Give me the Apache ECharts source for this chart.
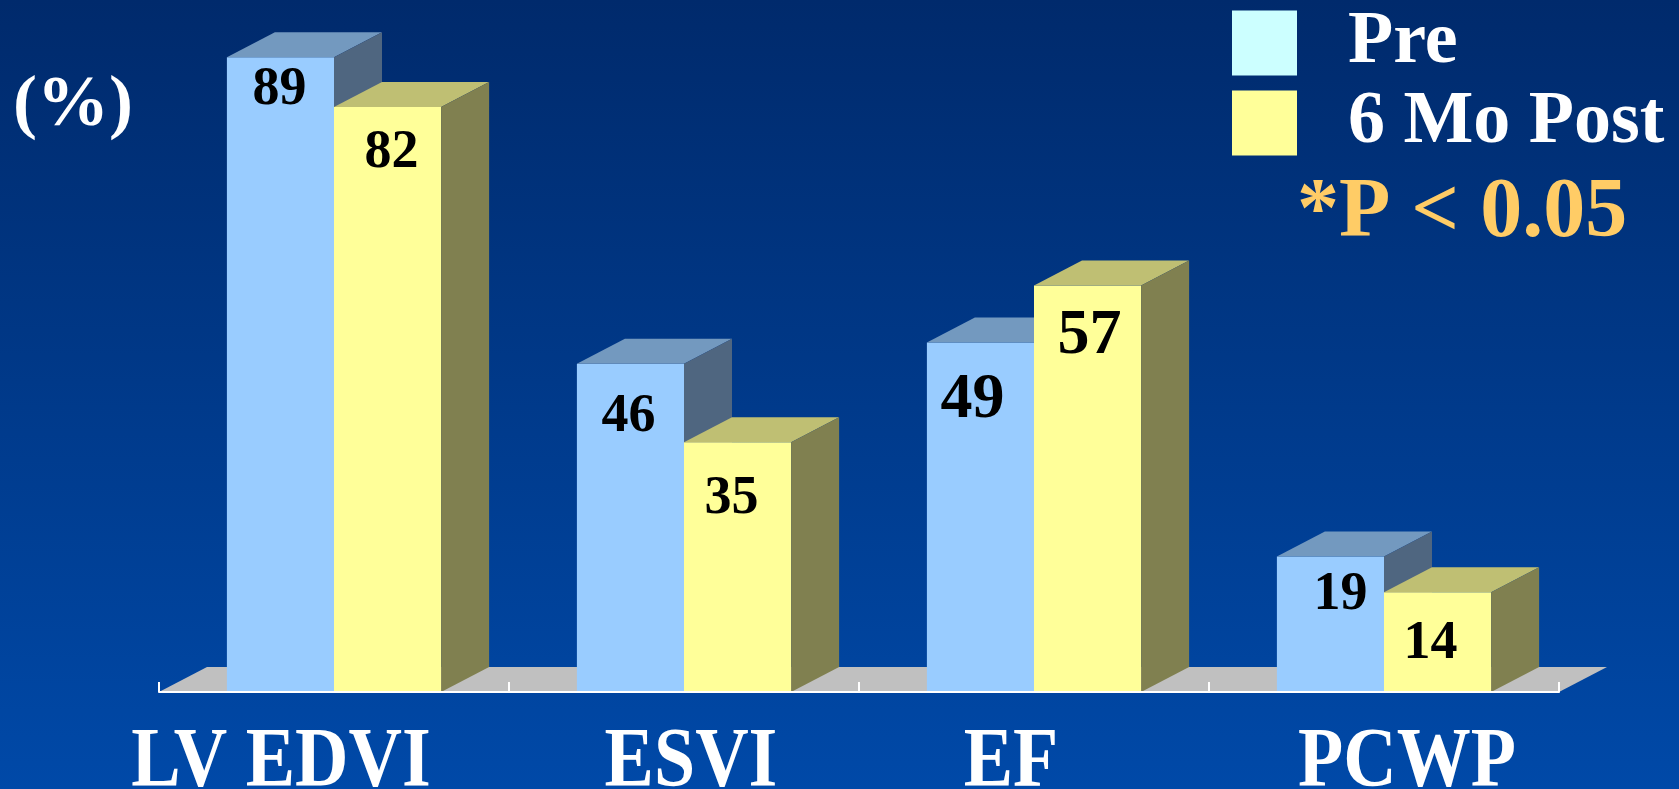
<!DOCTYPE html>
<html>
<head>
<meta charset="utf-8">
<script src="https://cdn.jsdelivr.net/npm/echarts@6/dist/echarts.min.js"></script>
<style>
  html, body { margin: 0; padding: 0; }
  #chart { width: 1679px; height: 789px; }
</style>
</head>
<body>
<div id="chart"></div>
<script>
// Chart values
const categories = ['LV EDVI', 'ESVI', 'EF', 'PCWP'];
const seriesNames = ['Pre', '6 Mo Post'];
const preValues = [89, 46, 49, 19];
const postValues = [82, 35, 57, 14];
const unitLabel = '(%)';
const noteText = '*P < 0.05';

// Styling
const SERIF = '"Liberation Serif", "Times New Roman", "DejaVu Serif", serif';
const DEPTH_X = 48;           // 3D depth, horizontal
const DEPTH_Y = 25;           // 3D depth, vertical
const BAR_FRACTION = 0.306;   // share of a category band taken by one bar face
const faceColors = [
  { front: '#99CCFF', top: '#7399BF', side: '#4F6680', legend: '#CCFFFF' },
  { front: '#FFFF99', top: '#BFBF73', side: '#808050', legend: '#FFFF99' }
];
// per-bar label placement tweaks [dx, dy below top] and font size
const labelTweak = [
  [[-1, 33], [4, 46]],
  [[-2, 53], [-6, 57]],
  [[-8, 58], [2, 51]],
  [[10, 39], [-7, 52]]
];
const labelSize = [54, 54, 64, 54];
const catLabelShift = [-53, 7, -23, 23];

const chart = echarts.init(document.getElementById('chart'), null, { renderer: 'canvas' });

function boxRenderer(seriesIdx) {
  const colors = faceColors[seriesIdx];
  return function (params, api) {
    const ci = api.value(0);
    const val = api.value(1);
    const base = api.coord([ci, 0]);
    const topPt = api.coord([ci, val]);
    const band = api.size([1, 0])[0];
    const w = band * BAR_FRACTION;
    const x0 = base[0] - w + seriesIdx * w;
    const x1 = x0 + w;
    const by = base[1];
    const ty = topPt[1];
    const tw = labelTweak[ci][seriesIdx];
    return {
      type: 'group',
      children: [
        {
          type: 'rect',
          shape: { x: x0, y: ty, width: w, height: by - ty },
          style: { fill: colors.front }
        },
        {
          type: 'polygon',
          shape: { points: [[x0, ty], [x0 + DEPTH_X, ty - DEPTH_Y], [x1 + DEPTH_X, ty - DEPTH_Y], [x1, ty]] },
          style: { fill: colors.top }
        },
        {
          type: 'polygon',
          shape: { points: [[x1, ty], [x1 + DEPTH_X, ty - DEPTH_Y], [x1 + DEPTH_X, by - DEPTH_Y], [x1, by]] },
          style: { fill: colors.side }
        },
        {
          type: 'text',
          style: {
            text: String(val),
            x: (x0 + x1) / 2 + tw[0],
            y: ty + tw[1],
            align: 'center',
            verticalAlign: 'middle',
            fill: '#000000',
            font: 'bold ' + labelSize[ci] + 'px ' + SERIF
          }
        }
      ]
    };
  };
}

const option = {
  backgroundColor: {
    type: 'linear', x: 0, y: 0, x2: 0, y2: 1,
    colorStops: [
      { offset: 0, color: '#002A6C' },
      { offset: 1, color: '#0049A8' }
    ]
  },
  animation: false,
  grid: { left: 159, right: 120, top: 50, bottom: 97 },
  legend: {
    orient: 'vertical',
    left: 1227,
    top: 1,
    itemWidth: 65,
    itemHeight: 65,
    itemGap: 6,
    icon: 'rect',
    selectedMode: false,
    data: seriesNames.map((n, i) => ({ name: n, itemStyle: { color: faceColors[i].legend } })),
    textStyle: {
      color: '#FFFFFF',
      fontSize: 74,
      fontWeight: 'bold',
      fontFamily: SERIF,
      lineHeight: 65,
      padding: [0, 0, 0, 46]
    }
  },
  xAxis: {
    type: 'category',
    data: categories,
    boundaryGap: true,
    z: 5,
    axisLine: { show: true, lineStyle: { color: '#FFFFFF', width: 2 } },
    axisTick: { show: true, inside: true, length: 10, lineStyle: { color: '#FFFFFF', width: 2 } },
    axisLabel: { show: false },
    splitLine: { show: false }
  },
  yAxis: {
    type: 'value',
    min: 0,
    max: 90,
    show: false
  },
  graphic: [
    {
      type: 'text',
      left: 13,
      top: 70,
      style: { text: unitLabel, fill: '#FFFFFF', font: 'bold 72px ' + SERIF }
    },
    {
      type: 'text',
      x: 1297,
      y: 214,
      style: { text: noteText, fill: '#FFCC66', font: 'bold 84px ' + SERIF, verticalAlign: 'middle', align: 'left' }
    }
  ],
  series: [
    {
      // grey floor under the bars
      type: 'custom',
      name: 'floor',
      z: 1,
      silent: true,
      data: [[0, 0]],
      renderItem: function (params, api) {
        const cs = params.coordSys;
        const fy = cs.y + cs.height;
        return {
          type: 'polygon',
          shape: {
            points: [
              [cs.x, fy],
              [cs.x + DEPTH_X, fy - DEPTH_Y],
              [cs.x + cs.width + DEPTH_X, fy - DEPTH_Y],
              [cs.x + cs.width, fy]
            ]
          },
          style: { fill: '#C0C0C0' }
        };
      }
    },
    {
      // category names below the floor
      type: 'custom',
      name: 'categoryNames',
      z: 2,
      silent: true,
      data: categories.map((c, i) => [i, 0]),
      renderItem: function (params, api) {
        const i = api.value(0);
        const p = api.coord([i, 0]);
        return {
          type: 'text',
          x: p[0] + catLabelShift[i],
          y: p[1] + 30,
          scaleY: 1.14,
          style: {
            text: categories[i],
            x: 0,
            y: 0,
            align: 'center',
            verticalAlign: 'top',
            fill: '#FFFFFF',
            font: 'bold 74px ' + SERIF
          }
        };
      }
    },
    {
      type: 'custom',
      name: seriesNames[0],
      z: 3,
      itemStyle: { color: faceColors[0].legend },
      data: preValues.map((v, i) => [i, v]),
      encode: { x: 0, y: 1 },
      renderItem: boxRenderer(0)
    },
    {
      type: 'custom',
      name: seriesNames[1],
      z: 3,
      itemStyle: { color: faceColors[1].legend },
      data: postValues.map((v, i) => [i, v]),
      encode: { x: 0, y: 1 },
      renderItem: boxRenderer(1)
    }
  ]
};

chart.setOption(option);
</script>
</body>
</html>
